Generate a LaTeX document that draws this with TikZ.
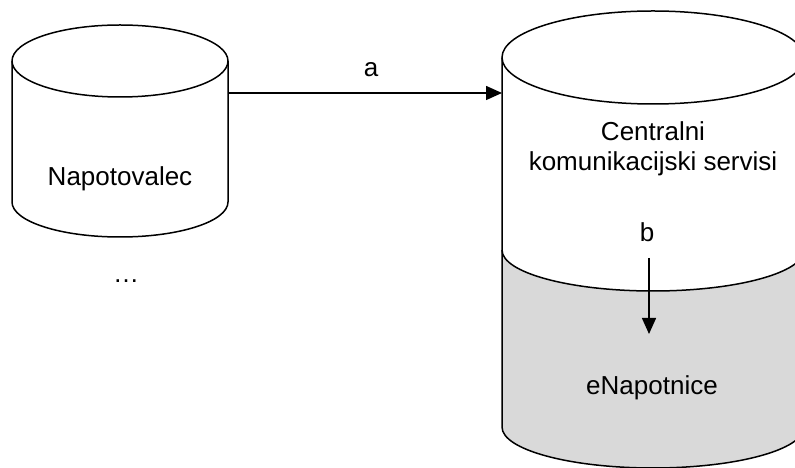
\documentclass[tikz,border=0pt]{standalone}
\usepackage{fontspec}
\setmainfont{Liberation Sans}
\usetikzlibrary{arrows.meta}
\definecolor{lowerfill}{RGB}{217,217,217}
\tikzset{
  outline/.style={draw=black, line width=1.5pt, line join=round},
  label/.style={font=\fontsize{26}{30}\selectfont, inner sep=0pt},
  flow/.style={draw=black, line width=1.5pt, -{Triangle[length=16pt,width=14pt]}}
}
\begin{document}
\begin{tikzpicture}[x=1pt, y=1pt]
  \clip (0,0) rectangle (795,468);
  \fill[white] (0,0) rectangle (795,468);

  % left store: Napotovalec
  \path[outline, fill=white]
    (12,407) -- (12,266) arc[start angle=180, end angle=360, x radius=108, y radius=35]
    -- (228,407) arc[start angle=0, end angle=180, x radius=108, y radius=36] -- cycle;
  \draw[outline] (12,407) arc[start angle=180, end angle=360, x radius=108, y radius=36];
  \node[label, anchor=base] (nap) at (120,282) {Napotovalec};
  \node[label, anchor=base] (more) at (126,185) {\dots};

  % right store: central services over eNapotnice
  \fill[white]
    (502,410.5) -- (502,41) arc[start angle=180, end angle=360, x radius=151, y radius=41]
    -- (804,410.5) arc[start angle=0, end angle=180, x radius=151, y radius=46.5] -- cycle;
  \fill[lowerfill]
    (502,218) arc[start angle=180, end angle=360, x radius=151, y radius=41]
    -- (804,41) arc[start angle=0, end angle=-180, x radius=151, y radius=41] -- cycle;
  \draw[outline]
    (502,410.5) -- (502,41) arc[start angle=180, end angle=360, x radius=151, y radius=41]
    -- (804,410.5) arc[start angle=0, end angle=180, x radius=151, y radius=46.5] -- cycle;
  \draw[outline] (502,410.5) arc[start angle=180, end angle=360, x radius=151, y radius=46.5];
  \draw[outline] (502,218) arc[start angle=180, end angle=360, x radius=151, y radius=41];

  \node[label, align=center] (ccs) at (653,319.5) {Centralni\\komunikacijski servisi};
  \node[label, anchor=base] (enap) at (652,73) {eNapotnice};

  % connectors
  \coordinate (napOut) at (228,375);
  \coordinate (ccsIn) at (502,375);
  \draw[flow] (napOut) -- (ccsIn);
  \node[label, anchor=base] (la) at (371,391) {a};

  \coordinate (ccsOut) at (649,210);
  \coordinate (enapIn) at (649,134);
  \draw[flow] (ccsOut) -- (enapIn);
  \node[label, anchor=base] (lb) at (647,226) {b};
\end{tikzpicture}
\end{document}
